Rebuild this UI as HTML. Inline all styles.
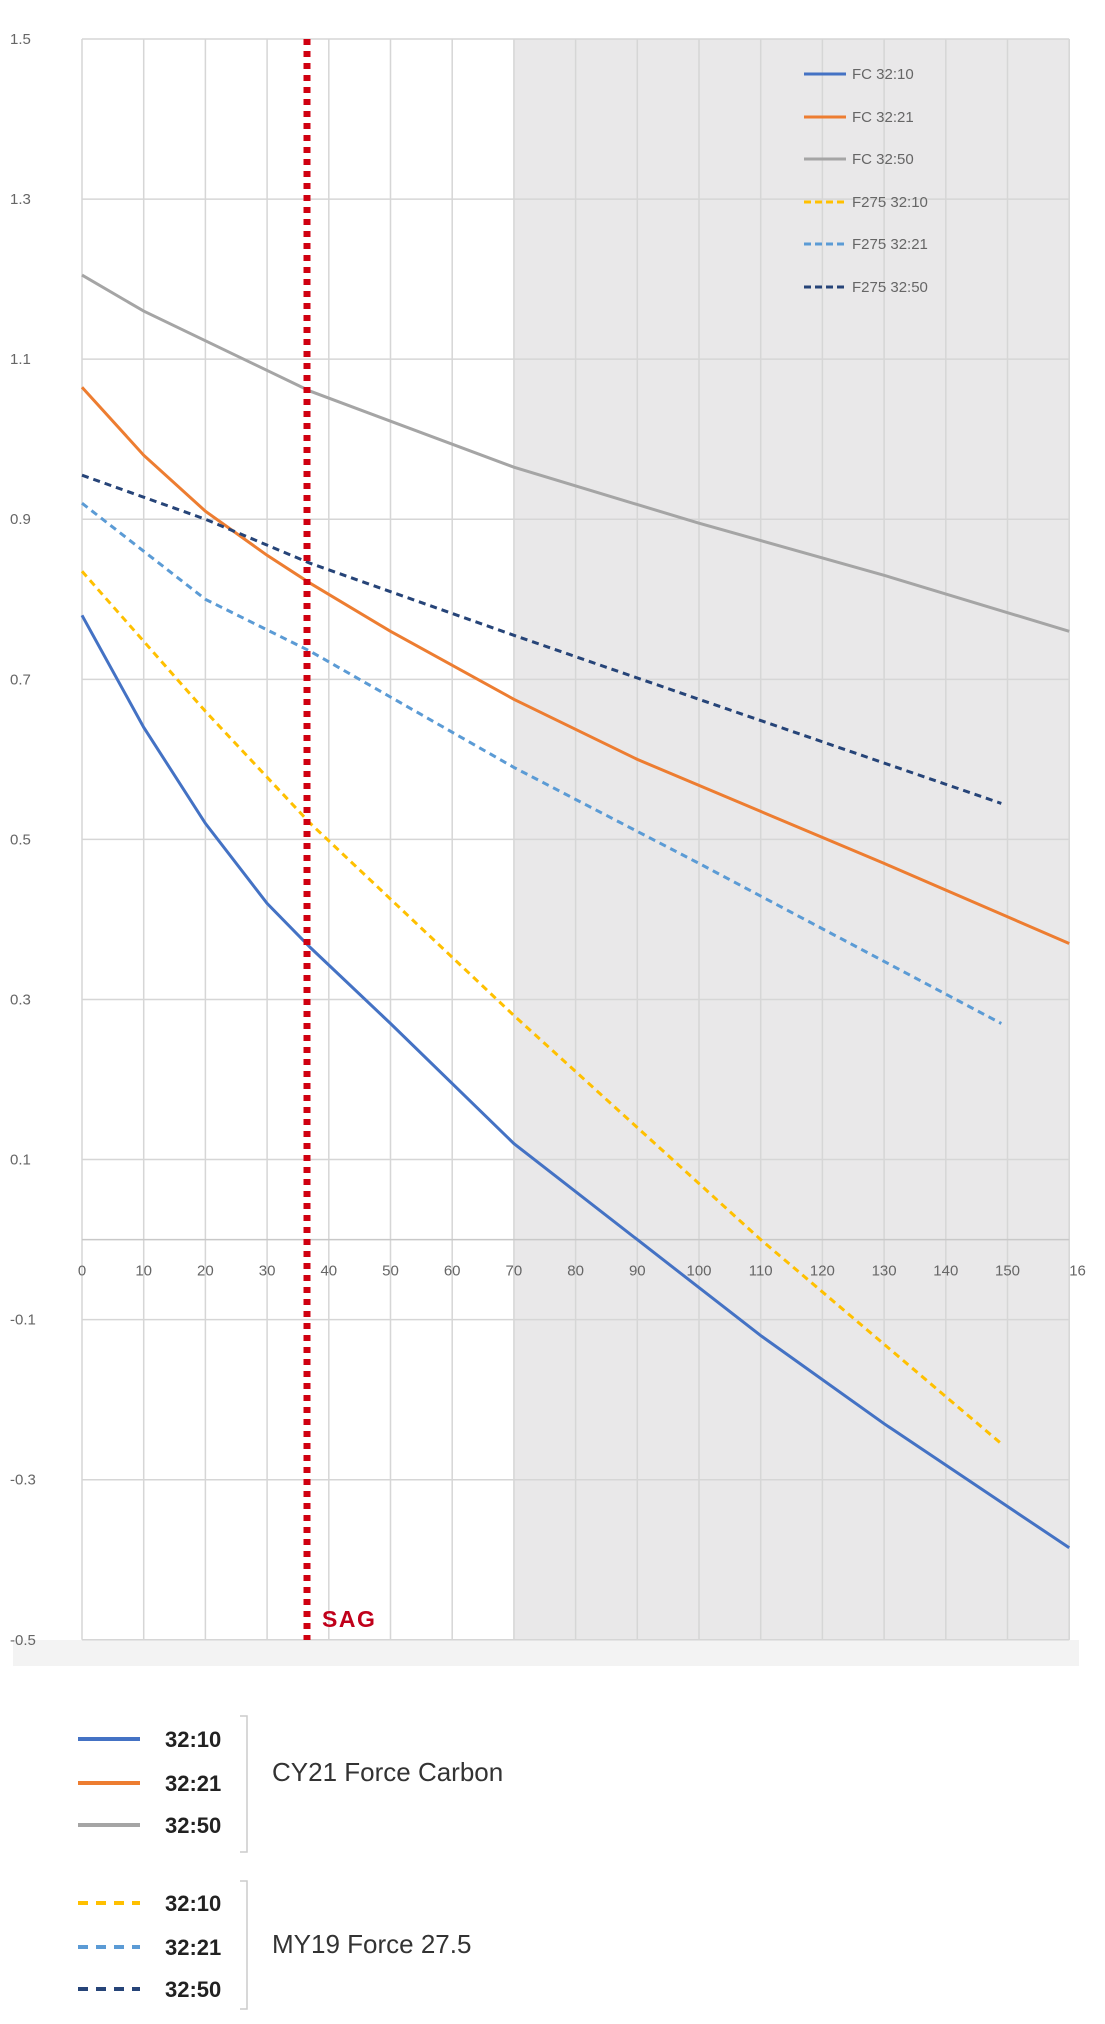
<!DOCTYPE html>
<html><head><meta charset="utf-8"><style>
body{margin:0;background:#fff;}
svg{display:block;font-family:"Liberation Sans",sans-serif;}
</style></head><body>
<svg id="s" width="1105" height="2024" viewBox="0 0 1105 2024" xmlns="http://www.w3.org/2000/svg">
<rect x="13" y="1640" width="1066" height="26" fill="#f3f3f3"/>
<rect x="514" y="39" width="556" height="1601" fill="#e9e8e9"/>
<g id="grid" stroke="#d6d6d6" stroke-width="1.5"></g>
<g id="lab" fill="#666" font-size="15"></g>
<g id="ser" fill="none" stroke-width="3"></g>
<line x1="307" y1="39" x2="307" y2="1640" stroke="#d00010" stroke-width="7" stroke-dasharray="6,6"/>
<text x="322" y="1627" fill="#c0001a" font-size="23" font-weight="bold" letter-spacing="1.5">SAG</text>
<g font-size="15" fill="#666">
<line x1="804" y1="74" x2="846" y2="74" stroke="#4472c4" stroke-width="3"/><text x="852" y="79">FC 32:10</text>
<line x1="804" y1="117" x2="846" y2="117" stroke="#ed7d31" stroke-width="3"/><text x="852" y="122">FC 32:21</text>
<line x1="804" y1="159" x2="846" y2="159" stroke="#a5a5a5" stroke-width="3"/><text x="852" y="164">FC 32:50</text>
<line x1="804" y1="202" x2="846" y2="202" stroke="#ffc000" stroke-width="3" stroke-dasharray="7,4"/><text x="852" y="207">F275 32:10</text>
<line x1="804" y1="244" x2="846" y2="244" stroke="#5b9bd5" stroke-width="3" stroke-dasharray="7,4"/><text x="852" y="249">F275 32:21</text>
<line x1="804" y1="287" x2="846" y2="287" stroke="#264478" stroke-width="3" stroke-dasharray="7,4"/><text x="852" y="292">F275 32:50</text>
</g>
<g font-size="22">
<line x1="78" y1="1739" x2="140" y2="1739" stroke="#4472c4" stroke-width="4"/><text x="165" y="1747" font-weight="bold" fill="#222">32:10</text>
<line x1="78" y1="1783" x2="140" y2="1783" stroke="#ed7d31" stroke-width="4"/><text x="165" y="1791" font-weight="bold" fill="#222">32:21</text>
<line x1="78" y1="1825" x2="140" y2="1825" stroke="#a5a5a5" stroke-width="4"/><text x="165" y="1833" font-weight="bold" fill="#222">32:50</text>
<path d="M240 1716 H247 V1852 H240" fill="none" stroke="#ccc" stroke-width="1.5"/>
<text x="272" y="1781" font-size="26" fill="#333">CY21 Force Carbon</text>
<line x1="78" y1="1903" x2="140" y2="1903" stroke="#ffc000" stroke-width="4" stroke-dasharray="10,8"/><text x="165" y="1911" font-weight="bold" fill="#222">32:10</text>
<line x1="78" y1="1947" x2="140" y2="1947" stroke="#5b9bd5" stroke-width="4" stroke-dasharray="10,8"/><text x="165" y="1955" font-weight="bold" fill="#222">32:21</text>
<line x1="78" y1="1989" x2="140" y2="1989" stroke="#264478" stroke-width="4" stroke-dasharray="10,8"/><text x="165" y="1997" font-weight="bold" fill="#222">32:50</text>
<path d="M240 1881 H247 V2009 H240" fill="none" stroke="#ccc" stroke-width="1.5"/>
<text x="272" y="1953" font-size="26" fill="#333">MY19 Force 27.5</text>
</g>
</svg>
<script>
var NS="http://www.w3.org/2000/svg";
function X(v){return 82+v*6.17;}function Y(v){return 39+(1.5-v)*800.4;}
function el(p,t,a,txt){var e=document.createElementNS(NS,t);for(var k in a)e.setAttribute(k,a[k]);if(txt!=null)e.textContent=txt;document.getElementById(p).appendChild(e);}
for(var i=0;i<=16;i++)el("grid","line",{x1:X(i*10),y1:39,x2:X(i*10),y2:Y(-0.5)});
for(var v=-0.5;v<=1.51;v+=0.2){var vv=Math.round(v*10)/10;el("grid","line",{x1:82,y1:Y(vv),x2:X(160),y2:Y(vv)});el("lab","text",{x:10,y:Y(vv)+5},vv.toFixed(1));}
el("grid","line",{x1:82,y1:Y(0),x2:X(160),y2:Y(0),stroke:"#c8c8c8"});
for(var i=0;i<=16;i++){var t=i==16?"16":String(i*10);el("lab","text",{x:X(i*10),y:Y(0)+36,"text-anchor":i==16?"start":"middle"},t);}
var S=[
["#4472c4",0,[[0,.78],[10,.64],[20,.52],[30,.42],[37,.365],[50,.27],[70,.12],[90,0],[110,-.12],[130,-.23],[160,-.385]]],
["#ed7d31",0,[[0,1.065],[10,.98],[20,.91],[30,.855],[37,.82],[50,.76],[70,.675],[90,.6],[110,.535],[130,.47],[160,.37]]],
["#a5a5a5",0,[[0,1.205],[10,1.16],[37,1.06],[70,.965],[100,.895],[130,.83],[160,.76]]],
["#ffc000",1,[[0,.835],[20,.66],[37,.52],[70,.28],[110,0],[149,-.255]]],
["#5b9bd5",1,[[0,.92],[20,.8],[37,.735],[70,.59],[100,.47],[149,.27]]],
["#264478",1,[[0,.955],[20,.9],[37,.845],[70,.755],[100,.675],[149,.545]]]];
S.forEach(function(s){var d=s[2].map(function(p,i){return(i?"L":"M")+X(p[0]).toFixed(1)+" "+Y(p[1]).toFixed(1);}).join(" ");
var a={d:d,stroke:s[0]};if(s[1])a["stroke-dasharray"]="7,5";el("ser","path",a);});
</script>
</body></html>
